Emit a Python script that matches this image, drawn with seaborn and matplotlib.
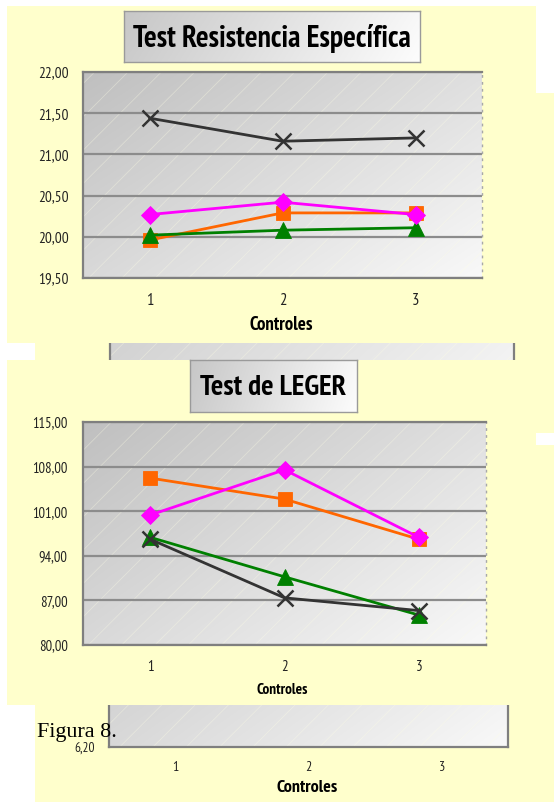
import matplotlib
matplotlib.use("Agg")
import numpy as np
import matplotlib.pyplot as plt
from matplotlib import font_manager
from matplotlib.patches import Rectangle
import seaborn as sns

# ---------------------------------------------------------------- data
controles = [1, 2, 3]
control_labels = ["1", "2", "3"]

# Test Resistencia Específica
resist_rombo = [20.27, 20.42, 20.27]
resist_cuadrado = [19.96, 20.29, 20.29]
resist_triangulo = [20.02, 20.08, 20.11]
resist_cruz = [21.44, 21.16, 21.20]
resist_ticks = [19.50, 20.00, 20.50, 21.00, 21.50, 22.00]

# Test de LEGER
leger_rombo = [100.4, 107.5, 96.9]
leger_cuadrado = [106.2, 102.9, 96.6]
leger_triangulo = [96.9, 90.7, 84.7]
leger_cruz = [96.6, 87.4, 85.4]
leger_ticks = [80.00, 87.00, 94.00, 101.00, 108.00, 115.00]

# third chart (only its bottom edge shows below the others)
tercer_ticks = [6.20]

# ---------------------------------------------------------------- fonts
sns.set_style("white")
entries = font_manager.fontManager.ttflist
PREFERRED = ["Liberation Sans Narrow", "Arial Narrow", "Arimo Narrow",
             "Archivo Narrow", "PT Sans Narrow", "Roboto Condensed",
             "Fira Sans Condensed", "IBM Plex Sans Condensed",
             "Encode Sans Condensed", "Open Sans Condensed"]


def pick_narrow():
    for name in PREFERRED:
        fam = [f for f in entries if f.name == name and "[" not in f.fname]
        weights = {str(f.weight) for f in fam if f.style == "normal"}
        if fam and ("700" in weights or "bold" in weights) and \
                ("400" in weights or "normal" in weights or "regular" in weights):
            return name, str(fam[0].stretch)
    return "Liberation Sans", "normal"


NARROW, STRETCH = pick_narrow()
names = {f.name for f in entries}
SERIF = "Liberation Serif" if "Liberation Serif" in names else "DejaVu Serif"
plt.rcParams["font.family"] = [NARROW, "DejaVu Sans"]
plt.rcParams["font.stretch"] = STRETCH
plt.rcParams["hatch.linewidth"] = 0.6

YELLOW = "#FFFFCC"
GRID = "#8c8c8c"
AXIS = "#7f7f7f"
TXT = "#222222"

W, H = 554, 802
fig = plt.figure(figsize=(W / 100, H / 100), dpi=100, facecolor="white")


def frame(x0, y0, x1, y1):
    """Pixel box (top-left origin) -> figure fraction rect."""
    return [x0 / W, 1 - y1 / H, (x1 - x0) / W, (y1 - y0) / H]


def panel(x0, y0, x1, y1, z):
    l, b, w, h = frame(x0, y0, x1, y1)
    fig.add_artist(Rectangle((l, b), w, h, transform=fig.transFigure,
                             facecolor=YELLOW, edgecolor="none", zorder=z))


def plot_area(x0, y0, x1, y1, z, solid_right=False):
    ax = fig.add_axes(frame(x0, y0, x1, y1))
    ax.set_zorder(z)
    # diagonal grey gradient: dark top-left, light bottom-right
    u = np.linspace(0, 1, 200)[None, :]
    d = np.linspace(0, 1, 200)[:, None]
    val = 0.75 + 0.125 * u + 0.10 * d
    ax.imshow(np.dstack([val, val, val]), extent=(0, 1, 0, 1),
              transform=ax.transAxes, aspect="auto", zorder=0,
              interpolation="bilinear")
    ax.add_patch(Rectangle((0, 0), 1, 1, transform=ax.transAxes,
                           facecolor="none", edgecolor=(1, 1, 0.9, 0.35),
                           lw=0, hatch="/", zorder=0.2))
    for s in ("left", "bottom", "top"):
        ax.spines[s].set_color(AXIS)
        ax.spines[s].set_linewidth(1.6)
    if solid_right:
        ax.spines["right"].set_color(AXIS)
        ax.spines["right"].set_linewidth(1.6)
    else:
        ax.spines["right"].set_color("#a8a8a8")
        ax.spines["right"].set_linewidth(1.0)
        ax.spines["right"].set_linestyle((0, (1, 4)))
    ax.set_axisbelow(True)
    return ax


def category_axis(ax, ticks, ylim, pad_x, pad_y, grid=True):
    ax.set_xlim(0.5, 3.5)
    ax.set_ylim(*ylim)
    ax.set_xticks(controles)
    ax.set_xticklabels(control_labels, color=TXT)
    ax.set_xticks([0.5, 1.5, 2.5, 3.5], minor=True)
    ax.tick_params(axis="x", which="major", length=0, pad=pad_x)
    ax.tick_params(axis="x", which="minor", length=5, width=1.3,
                   color=AXIS, direction="out")
    ax.set_yticks(ticks)
    ax.set_yticklabels([f"{v:.2f}".replace(".", ",") for v in ticks],
                       color=TXT)
    ax.tick_params(axis="y", length=0, pad=pad_y)
    if grid:
        ax.yaxis.grid(True, color=GRID, linewidth=1.6)
    ax.set_ylabel("")


def draw_series(ax, series):
    for vals, color, marker, ms, mew in series:
        sns.lineplot(x=controles, y=vals, ax=ax, color=color, marker=marker,
                     markersize=ms, markeredgecolor=color,
                     markeredgewidth=mew, linewidth=2.0, legend=False,
                     zorder=3)


def title_box(x0, y0, x1, y1, text, base, z):
    ax = fig.add_axes(frame(x0, y0, x1, y1))
    ax.set_zorder(z)
    u = np.linspace(0, 1, 200)[None, :]
    d = np.linspace(0, 1, 40)[:, None]
    val = 0.78 + 0.19 * u + 0.02 * d
    ax.imshow(np.dstack([val, val, val]), extent=(0, 1, 0, 1),
              aspect="auto", interpolation="bilinear")
    ax.set_xlim(0, 1)
    ax.set_ylim(0, 1)
    ax.set_xticks([])
    ax.set_yticks([])
    for s in ax.spines.values():
        s.set_color("#9a9a9a")
        s.set_linewidth(1.0)
    ax.spines["bottom"].set_linestyle((0, (3, 1)))
    return ax.text(0.5, base, text, ha="center", va="baseline", fontsize=18,
                   fontweight="bold", color="black")


STYLE_CRUZ = ("#333333", "x", 11, 1.8)
STYLE_CUAD = ("#FF6600", "s", 10, 0.6)
STYLE_TRI = ("#008000", "^", 11, 0.6)
STYLE_ROMBO = ("#FF00FF", "D", 9, 0.6)

# ------------------------------------------------ chart behind (upper)
panel(35, 93, 554, 433, 1)
ax_b = plot_area(110, 130, 514, 420, 1.5, solid_right=True)
ax_b.set_xlim(0.5, 3.5)
ax_b.set_ylim(0, 1)
ax_b.set_xticks([])
ax_b.set_yticks([])

# ------------------------------------------------ chart behind (lower)
panel(35, 445, 554, 802, 1)
ax_d = plot_area(109, 520, 508, 747, 1.5, solid_right=True)
category_axis(ax_d, tercer_ticks, (6.2, 7.2), 10, 10, grid=False)
ax_d.set_xlabel("Controles", fontweight="bold", color="black", va="center")
ax_d.xaxis.set_label_coords(307 / W, 1 - 788 / H, transform=fig.transFigure)

# ------------------------------------------------ Test Resistencia Específica
panel(7, 6, 536, 343, 2)
ax_a = plot_area(83, 72, 482, 278, 2.5)
draw_series(ax_a, [
    (resist_cuadrado, *STYLE_CUAD),
    (resist_triangulo, *STYLE_TRI),
    (resist_rombo, *STYLE_ROMBO),
    (resist_cruz, *STYLE_CRUZ),
])
category_axis(ax_a, resist_ticks, (19.5, 22.0), 11, 10)
ax_a.set_xlabel("Controles", fontweight="bold", color="black", va="center")
ax_a.xaxis.set_label_coords(281 / W, 1 - 325 / H, transform=fig.transFigure)
t_a = title_box(124, 11, 420, 62, "Test Resistencia Específica", 0.29, 2.8)

# ------------------------------------------------ Test de LEGER
panel(7, 360, 536, 705, 3)
ax_c = plot_area(83, 422, 486, 645, 3.5)
draw_series(ax_c, [
    (leger_cuadrado, *STYLE_CUAD),
    (leger_triangulo, *STYLE_TRI),
    (leger_rombo, *STYLE_ROMBO),
    (leger_cruz, *STYLE_CRUZ),
])
category_axis(ax_c, leger_ticks, (80, 115), 11, 11)
ax_c.set_xlabel("Controles", fontweight="bold", color="black", va="center")
ax_c.xaxis.set_label_coords(282 / W, 1 - 690 / H, transform=fig.transFigure)
t_c = title_box(190, 360, 357, 412, "Test de LEGER", 0.33, 3.8)

# ------------------------------------------------ caption
caption = fig.text(37 / W, 1 - 737 / H, "Figura 8.",
                   family=[SERIF, "DejaVu Serif"], fontsize=16,
                   color="black", ha="left", va="baseline", zorder=10)

# ------------------------------------------------ size texts to their boxes
fig.canvas.draw()
renderer = fig.canvas.get_renderer()


def fit(txt, width_px, max_size):
    w = txt.get_window_extent(renderer).width
    txt.set_fontsize(min(max_size, txt.get_fontsize() * width_px / w))


fit(t_a, 290, 21.5)
fit(t_c, 157, 21.0)
fit(caption, 80, 16.5)
fit(ax_a.xaxis.label, 67, 13.5)
fit(ax_c.xaxis.label, 59, 11.0)
fit(ax_d.xaxis.label, 68, 13.0)


def fit_ticks(ax, width_px, max_size, x_scale):
    lab = ax.get_yticklabels()[-1]
    size = lab.get_fontsize() * width_px / lab.get_window_extent(renderer).width
    size = min(size, max_size)
    ax.tick_params(axis="y", labelsize=size)
    ax.tick_params(axis="x", labelsize=size * x_scale)


fit_ticks(ax_a, 31, 11.0, 1.08)
fit_ticks(ax_c, 36, 10.5, 1.02)
fit_ticks(ax_d, 22, 9.5, 1.05)

fig.savefig("out.png", dpi=100, facecolor="white")
